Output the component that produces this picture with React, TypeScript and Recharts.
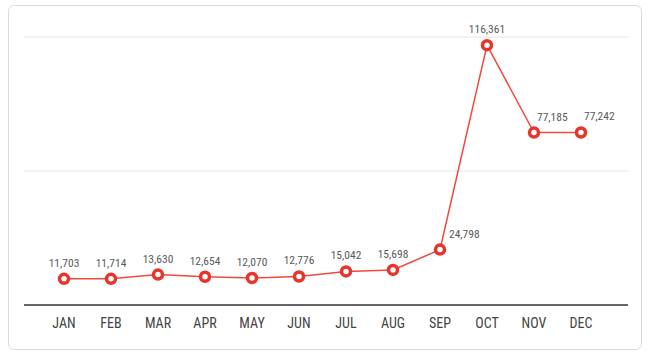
import { LineChart, Line, XAxis, YAxis, CartesianGrid, LabelList } from 'recharts';

const months = ['JAN', 'FEB', 'MAR', 'APR', 'MAY', 'JUN', 'JUL', 'AUG', 'SEP', 'OCT', 'NOV', 'DEC'];
const totals = [11703, 11714, 13630, 12654, 12070, 12776, 15042, 15698, 24798, 116361, 77185, 77242];
const yTicks = [0, 60000, 120000];

const data = months.map((m, i) => ({ month: m, total: totals[i] }));

const FONT = '"Liberation Sans Narrow", "Roboto Condensed", Roboto, sans-serif';

// labels that sit to the right of the point instead of centred above it
const sideLabels: Record<string, number> = { SEP: 9, NOV: 3, DEC: 3 };

function ValueLabel(props: any) {
  const { x, y, value, index } = props;
  const dx = sideLabels[months[index]];
  const side = dx !== undefined;
  return (
    <text
      x={side ? x + dx : x}
      y={y - 12}
      textAnchor={side ? 'start' : 'middle'}
      fill="#5a5a5a"
      fontSize={11.5}
      fontFamily={FONT}
    >
      {value.toLocaleString('en-US')}
    </text>
  );
}

export default function App() {
  return (
    <div style={{ position: 'absolute', left: 0, top: 0, width: 670, height: 353 }}>
      <div
        style={{
          position: 'absolute',
          left: 8,
          top: 5,
          width: 634,
          height: 345,
          border: '1px solid #dcdcdc',
          borderRadius: 6,
          boxSizing: 'border-box',
          background: '#fff',
        }}
      />
      <div style={{ position: 'absolute', left: 0, top: 0 }}>
        <LineChart width={670} height={353} data={data} margin={{ top: 37, right: 42, left: 24, bottom: 18 }}>
          <CartesianGrid vertical={false} stroke="#e6e6e6" />
          <XAxis
            dataKey="month"
            padding={{ left: 40, right: 47 }}
            axisLine={{ stroke: '#666', strokeWidth: 2 }}
            tickLine={false}
            tickMargin={7}
            tick={{ fill: '#444', fontSize: 14, fontFamily: FONT }}
            interval={0}
          />
          <YAxis hide domain={[0, 120000]} ticks={yTicks} />
          <Line
            type="linear"
            dataKey="total"
            stroke="#f0493e"
            strokeWidth={1.5}
            dot={{ r: 4.5, stroke: '#e8342a', strokeWidth: 3.5, fill: '#fff' }}
            activeDot={false}
            isAnimationActive={false}
          >
            <LabelList dataKey="total" content={ValueLabel} />
          </Line>
        </LineChart>
      </div>
    </div>
  );
}
